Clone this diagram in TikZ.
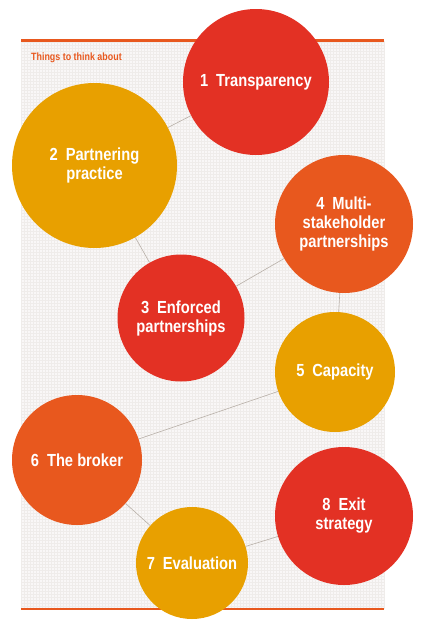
\documentclass[tikz,border=0pt]{standalone}
\usepackage{fontspec}
\setmainfont{Liberation Sans}[FakeStretch=0.84]
\definecolor{cred}{HTML}{E33124}
\definecolor{corange}{HTML}{E8581E}
\definecolor{cyellow}{HTML}{E8A000}
\definecolor{linec}{HTML}{B8B0A8}
\definecolor{gridc}{HTML}{EFECEA}
\tikzset{
  bubble/.style={circle, inner sep=0pt, align=center, text=white,
    font=\bfseries\fontsize{17.5}{19}\selectfont},
  link/.style={draw=linec, line width=0.6pt},
  rule/.style={draw=corange, line width=2.6pt},
}
\newcommand{\nsp}{\hspace{0.45em}}
\begin{document}
\begin{tikzpicture}[x=1pt,y=-1pt]
\useasboundingbox (0,0) rectangle (425,632);
\fill[white] (0,0) rectangle (425,632);
% panel background with fine grid
\fill[gridc!40] (21,41) rectangle (384,609);
\draw[gridc, line width=0.5pt, step=3pt] (21,41) grid (384,609);
\draw[rule] (21,40.5) -- (384,40.5);
\draw[rule] (21,609) -- (384,609);
\node[anchor=base west, inner sep=0pt, text=corange, font=\bfseries\fontsize{10.6}{12}\selectfont] (title) at (31,60) {Things to think about};
% bubbles
\node[bubble, fill=cred, minimum size=146pt] (n1) at (256,82) {\raisebox{4pt}{1\nsp Transparency}};
\node[bubble, fill=cyellow, minimum size=165pt] (n2) at (94.5,165.5) {2\nsp Partnering\\practice};
\node[bubble, fill=cred, minimum size=127pt] (n3) at (181,318) {3\nsp Enforced\\partnerships};
\node[bubble, fill=corange, minimum size=138pt] (n4) at (344,224) {4\nsp Multi-\\stakeholder\\partnerships};
\node[bubble, fill=cyellow, minimum size=120pt] (n5) at (335,372) {5\nsp Capacity};
\node[bubble, fill=corange, minimum size=130pt] (n6) at (77,460) {6\nsp The broker};
\node[bubble, fill=cyellow, minimum size=112pt] (n7) at (192,563) {7\nsp Evaluation};
\node[bubble, fill=cred, minimum size=138pt] (n8) at (344,516) {8\nsp Exit\\strategy};
% connectors
\draw[link] (n1) -- (n2);
\draw[link] (n2) -- (n3);
\draw[link] (n3) -- (n4);
\draw[link] (n4) -- (n5);
\draw[link] (n5) -- (n6);
\draw[link] (n6) -- (n7);
\draw[link] (n7) -- (n8);
\end{tikzpicture}
\end{document}
